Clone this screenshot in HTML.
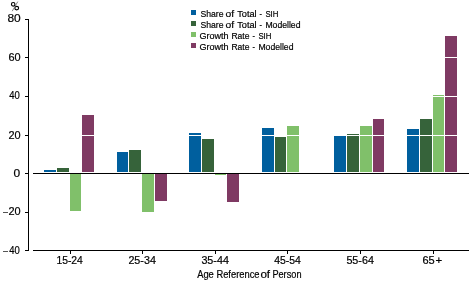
<!DOCTYPE html>
<html><head><meta charset="utf-8"><style>
html,body{margin:0;padding:0;background:#fff;width:472px;height:283px;overflow:hidden}
svg{display:block;will-change:transform}
.t{font-family:"Liberation Sans",sans-serif;fill:#000;stroke:#000;stroke-width:0.2px}
rect{shape-rendering:crispEdges}
</style></head><body>
<svg width="472" height="283" viewBox="0 0 472 283">
<rect x="44" y="170" width="12" height="2" fill="#005f9e"/>
<rect x="57" y="168" width="12" height="4" fill="#36633a"/>
<rect x="70" y="174" width="11" height="37" fill="#80c06a"/>
<rect x="82" y="115" width="12" height="57" fill="#7f3a63"/>
<rect x="117" y="152" width="11" height="20" fill="#005f9e"/>
<rect x="129" y="150" width="12" height="22" fill="#36633a"/>
<rect x="142" y="174" width="12" height="38" fill="#80c06a"/>
<rect x="155" y="174" width="12" height="27" fill="#7f3a63"/>
<rect x="189" y="133" width="12" height="39" fill="#005f9e"/>
<rect x="202" y="139" width="12" height="33" fill="#36633a"/>
<rect x="215" y="174" width="11" height="1" fill="#80c06a"/>
<rect x="227" y="174" width="12" height="28" fill="#7f3a63"/>
<rect x="262" y="128" width="12" height="44" fill="#005f9e"/>
<rect x="275" y="137" width="11" height="35" fill="#36633a"/>
<rect x="287" y="126" width="12" height="46" fill="#80c06a"/>
<rect x="334" y="136" width="12" height="36" fill="#005f9e"/>
<rect x="347" y="134" width="12" height="38" fill="#36633a"/>
<rect x="360" y="126" width="12" height="46" fill="#80c06a"/>
<rect x="373" y="119" width="11" height="53" fill="#7f3a63"/>
<rect x="407" y="129" width="12" height="43" fill="#005f9e"/>
<rect x="420" y="119" width="12" height="53" fill="#36633a"/>
<rect x="433" y="95" width="11" height="77" fill="#80c06a"/>
<rect x="445" y="36" width="12" height="136" fill="#7f3a63"/>
<rect x="33" y="19" width="436" height="1" fill="#fff"/>
<rect x="33" y="57" width="436" height="1" fill="#fff"/>
<rect x="33" y="96" width="436" height="1" fill="#fff"/>
<rect x="33" y="135" width="436" height="1" fill="#fff"/>
<rect x="33" y="212" width="436" height="1" fill="#fff"/>
<rect x="33" y="173" width="436" height="1" fill="#000"/>
<rect x="28" y="19" width="1" height="232" fill="#000"/>
<rect x="25" y="19" width="3" height="1" fill="#000"/>
<rect x="25" y="57" width="3" height="1" fill="#000"/>
<rect x="25" y="96" width="3" height="1" fill="#000"/>
<rect x="25" y="135" width="3" height="1" fill="#000"/>
<rect x="25" y="173" width="3" height="1" fill="#000"/>
<rect x="25" y="212" width="3" height="1" fill="#000"/>
<rect x="25" y="250" width="3" height="1" fill="#000"/>
<rect x="3" y="212" width="5" height="1" fill="#555"/>
<rect x="3" y="251" width="5" height="1" fill="#555"/>
<g fill="none" stroke="#000"><ellipse cx="13.2" cy="4.3" rx="1.75" ry="1.85" stroke-width="1.15"/><ellipse cx="16.7" cy="8.1" rx="1.9" ry="1.75" stroke-width="1.15"/><line x1="12.2" y1="11.2" x2="17.8" y2="1.6" stroke="#777" stroke-width="0.9"/></g>
<rect x="33" y="250" width="436" height="1" fill="#000"/>
<rect x="70" y="251" width="1" height="3" fill="#000"/>
<rect x="142" y="251" width="1" height="3" fill="#000"/>
<rect x="215" y="251" width="1" height="3" fill="#000"/>
<rect x="287" y="251" width="1" height="3" fill="#000"/>
<rect x="360" y="251" width="1" height="3" fill="#000"/>
<rect x="433" y="251" width="1" height="3" fill="#000"/>
<rect x="191" y="10" width="5" height="5" fill="#005f9e"/>
<rect x="191" y="21" width="5" height="5" fill="#36633a"/>
<rect x="191" y="32" width="5" height="5" fill="#80c06a"/>
<rect x="191" y="43" width="5" height="5" fill="#7f3a63"/>
<text x="7.40" y="22" class="t" style="font-size:11px" textLength="13.30" lengthAdjust="spacingAndGlyphs">80</text>
<text x="8.40" y="61" class="t" style="font-size:11px" textLength="12.19" lengthAdjust="spacingAndGlyphs">60</text>
<text x="9.20" y="99" class="t" style="font-size:11px" textLength="10.59" lengthAdjust="spacingAndGlyphs">40</text>
<text x="8.40" y="139" class="t" style="font-size:11px" textLength="12.19" lengthAdjust="spacingAndGlyphs">20</text>
<text x="13.40" y="177" class="t" style="font-size:11px" textLength="6.66" lengthAdjust="spacingAndGlyphs">0</text>
<text x="8.40" y="215" class="t" style="font-size:11px" textLength="12.19" lengthAdjust="spacingAndGlyphs">20</text>
<text x="9.20" y="254" class="t" style="font-size:11px" textLength="10.59" lengthAdjust="spacingAndGlyphs">40</text>
<text x="56.40" y="264" class="t" style="font-size:10.5px" textLength="26.42" lengthAdjust="spacingAndGlyphs">15-24</text>
<text x="128.40" y="264" class="t" style="font-size:10.5px" textLength="27.46" lengthAdjust="spacingAndGlyphs">25-34</text>
<text x="201.40" y="264" class="t" style="font-size:10.5px" textLength="27.46" lengthAdjust="spacingAndGlyphs">35-44</text>
<text x="274.20" y="264" class="t" style="font-size:10.5px" textLength="26.66" lengthAdjust="spacingAndGlyphs">45-54</text>
<text x="346.40" y="264" class="t" style="font-size:10.5px" textLength="27.46" lengthAdjust="spacingAndGlyphs">55-64</text>
<text x="422.40" y="264" class="t" style="font-size:10.5px" textLength="12.26" lengthAdjust="spacingAndGlyphs">65</text>
<text x="435.40" y="264" class="t" style="font-size:10.5px" textLength="6.66" lengthAdjust="spacingAndGlyphs">+</text>
<text x="197.20" y="278" class="t" style="font-size:10px" textLength="16.63" lengthAdjust="spacingAndGlyphs">Age</text>
<text x="216.40" y="278" class="t" style="font-size:10px" textLength="43.12" lengthAdjust="spacingAndGlyphs">Reference</text>
<text x="260.40" y="278" class="t" style="font-size:10px" textLength="9.71" lengthAdjust="spacingAndGlyphs">of</text>
<text x="272.40" y="278" class="t" style="font-size:10px" textLength="29.10" lengthAdjust="spacingAndGlyphs">Person</text>
<text x="200.40" y="17" class="t" style="font-size:9.5px" textLength="23.09" lengthAdjust="spacingAndGlyphs">Share</text>
<text x="225.40" y="17" class="t" style="font-size:9.5px" textLength="8.62" lengthAdjust="spacingAndGlyphs">of</text>
<text x="237.20" y="17" class="t" style="font-size:9.5px" textLength="19.41" lengthAdjust="spacingAndGlyphs">Total</text>
<text x="259.40" y="17" class="t" style="font-size:9.5px" textLength="2.42" lengthAdjust="spacingAndGlyphs">-</text>
<text x="265.40" y="17" class="t" style="font-size:9.5px" textLength="12.98" lengthAdjust="spacingAndGlyphs">SIH</text>
<text x="200.40" y="28" class="t" style="font-size:9.5px" textLength="23.09" lengthAdjust="spacingAndGlyphs">Share</text>
<text x="225.40" y="28" class="t" style="font-size:9.5px" textLength="8.62" lengthAdjust="spacingAndGlyphs">of</text>
<text x="237.20" y="28" class="t" style="font-size:9.5px" textLength="19.41" lengthAdjust="spacingAndGlyphs">Total</text>
<text x="259.40" y="28" class="t" style="font-size:9.5px" textLength="2.42" lengthAdjust="spacingAndGlyphs">-</text>
<text x="265.40" y="28" class="t" style="font-size:9.5px" textLength="35.09" lengthAdjust="spacingAndGlyphs">Modelled</text>
<text x="199.40" y="39" class="t" style="font-size:9.5px" textLength="29.14" lengthAdjust="spacingAndGlyphs">Growth</text>
<text x="231.40" y="39" class="t" style="font-size:9.5px" textLength="18.08" lengthAdjust="spacingAndGlyphs">Rate</text>
<text x="252.40" y="39" class="t" style="font-size:9.5px" textLength="2.42" lengthAdjust="spacingAndGlyphs">-</text>
<text x="258.40" y="39" class="t" style="font-size:9.5px" textLength="12.98" lengthAdjust="spacingAndGlyphs">SIH</text>
<text x="199.40" y="50" class="t" style="font-size:9.5px" textLength="29.14" lengthAdjust="spacingAndGlyphs">Growth</text>
<text x="231.40" y="50" class="t" style="font-size:9.5px" textLength="18.08" lengthAdjust="spacingAndGlyphs">Rate</text>
<text x="252.40" y="50" class="t" style="font-size:9.5px" textLength="2.42" lengthAdjust="spacingAndGlyphs">-</text>
<text x="258.40" y="50" class="t" style="font-size:9.5px" textLength="35.09" lengthAdjust="spacingAndGlyphs">Modelled</text>
</svg>
</body></html>
